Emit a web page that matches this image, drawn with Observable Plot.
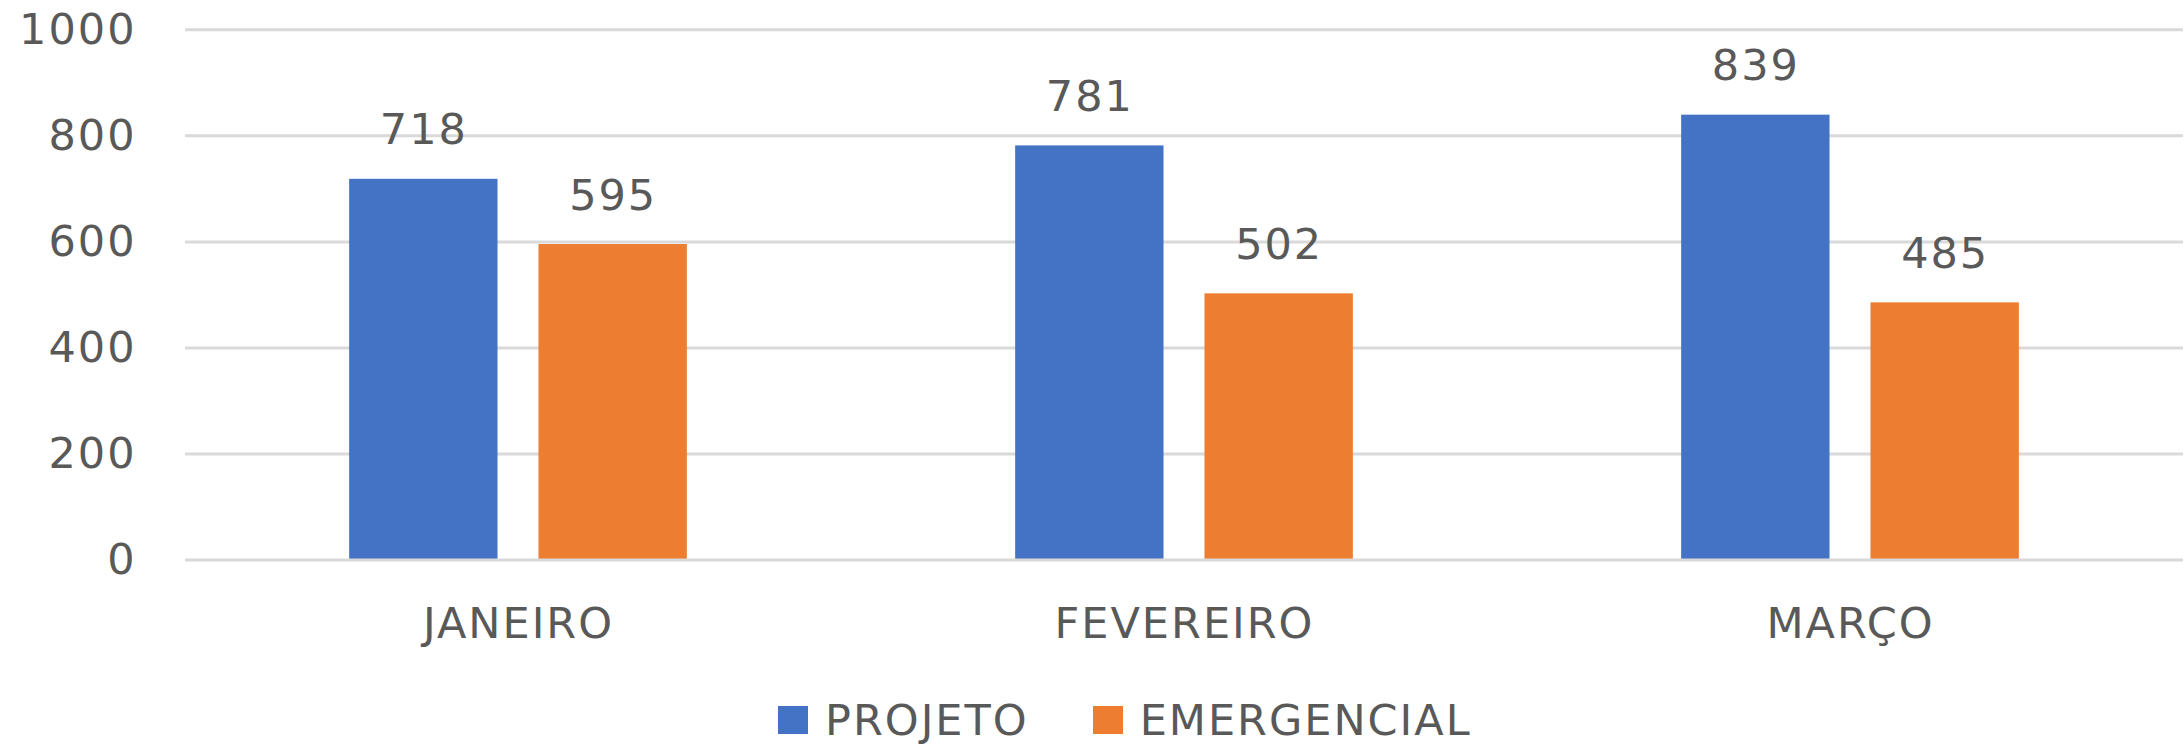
<!DOCTYPE html>
<html><head><meta charset="utf-8">
<script src="https://cdn.jsdelivr.net/npm/d3@7"></script>
<script src="https://cdn.jsdelivr.net/npm/@observablehq/plot@0.6"></script>
<style>
html,body{margin:0;padding:0;background:#fff;}
#wrap{position:relative;width:2184px;height:747px;font-family:"DejaVu Sans",sans-serif;}
#legend{position:absolute;left:778px;top:703px;display:flex;align-items:center;}
.item{display:flex;align-items:center;}
.sw{width:30px;height:28px;margin-right:17px;}
.lab{font-size:43px;line-height:34px;letter-spacing:2px;color:#595959;white-space:nowrap;}
</style></head><body><div id="wrap"><div id="chart"></div><div id="legend"></div></div>
<script>
const months = ["JANEIRO", "FEVEREIRO", "MARÇO"];
const series = ["PROJETO", "EMERGENCIAL"];
const projeto = [718, 781, 839];
const emergencial = [595, 502, 485];
const colors = ["#4472C4", "#ED7D31"];
const yTicks = [0, 200, 400, 600, 800, 1000];

const table = months.flatMap((m, i) => [
  {month: m, series: series[0], value: projeto[i]},
  {month: m, series: series[1], value: emergencial[i]}
]);

const chart = Plot.plot({
  width: 2184,
  height: 680,
  marginLeft: 184,
  marginRight: 0,
  marginTop: 29.3,
  marginBottom: 120.5,
  style: {fontFamily: "DejaVu Sans", fontSize: "43px", color: "#595959", letterSpacing: "2px", background: "#fff"},
  facet: {data: table, x: "month"},
  fx: {domain: months, padding: 0, axis: "bottom", label: null, tickSize: 0, tickPadding: 47},
  x: {domain: series, axis: null, paddingInner: 0.2164, paddingOuter: 0.867, round: false},
  y: {domain: [0, 1000], ticks: yTicks, tickFormat: d => String(d), tickSize: 0, tickPadding: 49, label: null},
  color: {domain: series, range: colors},
  marks: [
    Plot.ruleY(yTicks.filter(d => d !== 0), {stroke: "#d9d9d9", strokeWidth: 3}),
    Plot.barY(table, {x: "series", y: "value", fill: "series"}),
    Plot.ruleY([0], {stroke: "#d9d9d9", strokeWidth: 3}),
    Plot.text(table, {x: "series", y: "value", text: d => String(d.value), dy: -35, lineAnchor: "bottom", fill: "#595959", fontSize: 43})
  ]
});
document.getElementById("chart").appendChild(chart);

const legend = d3.select("#legend");
series.forEach((s, i) => {
  const item = legend.append("div").attr("class", "item").style("margin-right", i === 0 ? "64px" : "0px");
  item.append("div").attr("class", "sw").style("background", colors[i]);
  item.append("span").attr("class", "lab").text(s);
});
</script>
</body></html>
